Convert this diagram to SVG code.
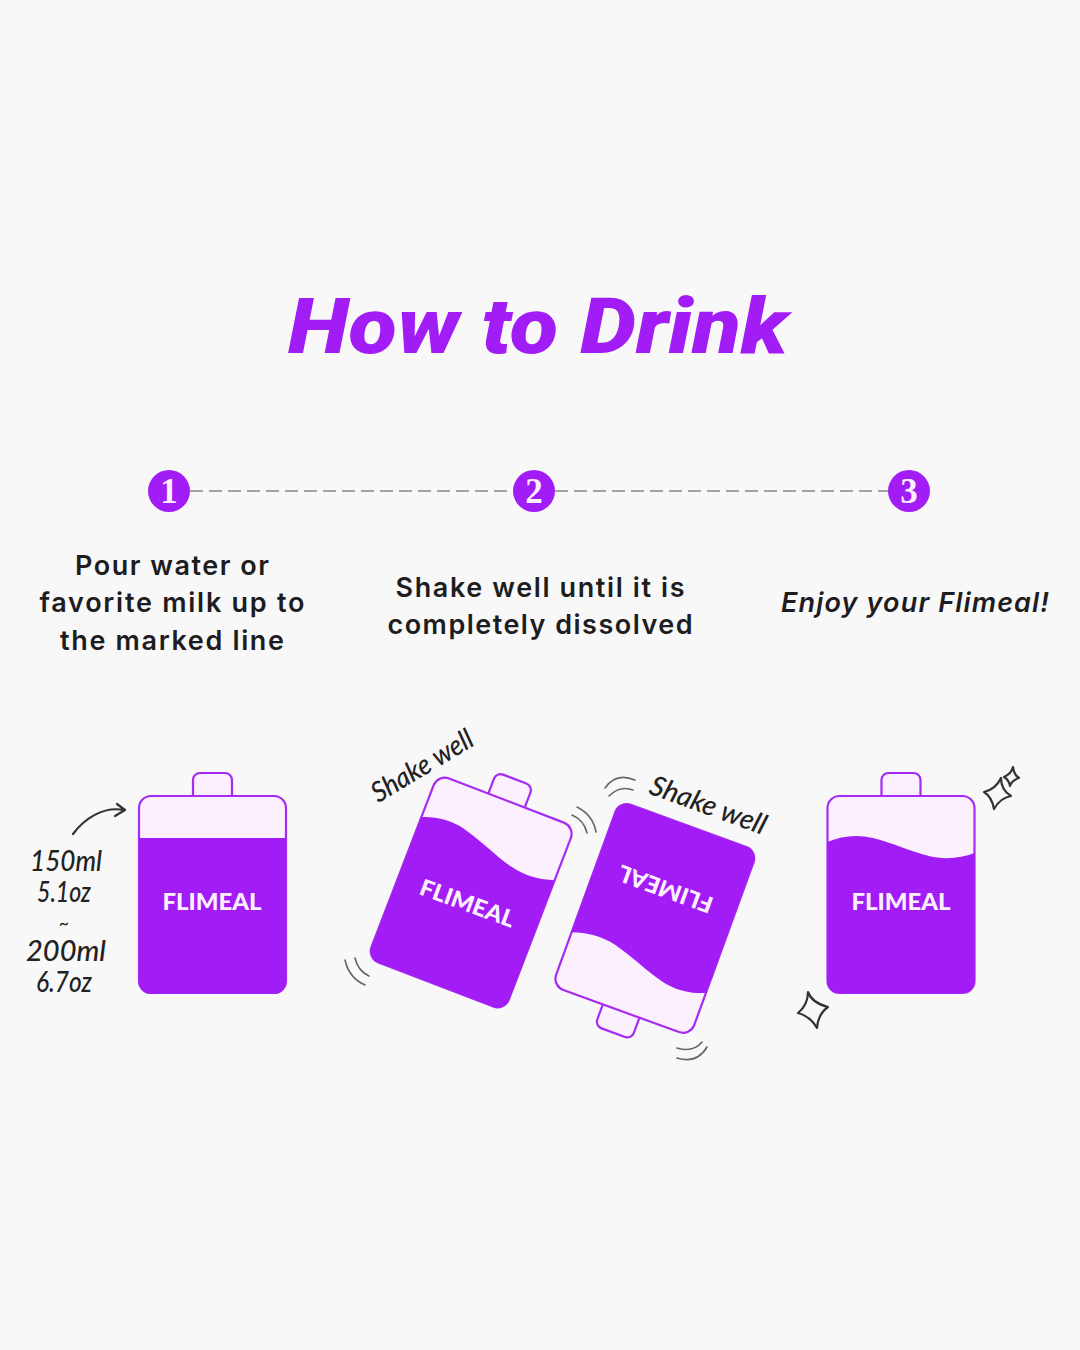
<svg xmlns="http://www.w3.org/2000/svg" xmlns:xlink="http://www.w3.org/1999/xlink" width="1080" height="1350" viewBox="0 0 1080 1350">
  <style>
    .title { font: italic 900 77px Roboto, "Liberation Sans", sans-serif; fill: #A21CF5; }
    .body { font: 600 27px Inter, "Liberation Sans", sans-serif; fill: #1d1d1f; text-anchor: middle; }
    .body-i { font: italic 600 27px Inter, "Liberation Sans", sans-serif; fill: #1d1d1f; text-anchor: middle; }
    .num { font: 700 35px "Liberation Serif", serif; fill: #FCF0FE; text-anchor: middle; }
    .hand { font: italic 500 28px Lato, "Liberation Sans", sans-serif; fill: #222; text-anchor: middle; }
    .tilde { font: italic 500 17px Lato, "Liberation Sans", sans-serif; fill: #222; text-anchor: middle; }
    .brand { font: 900 23px Lato, "Liberation Sans", sans-serif; fill: #FCF0FE; text-anchor: middle; }
    .badge { fill: #A21CF5; }
    .shell { fill: #FCF0FE; stroke: #A52BF0; stroke-width: 2.2; }
    .liquid { fill: #A21CF5; }
    .ink { fill: none; stroke: #333; stroke-width: 2.2; stroke-linecap: round; stroke-linejoin: round; }
    .wobble { fill: none; stroke: #666; stroke-width: 1.6; stroke-linecap: round; }
    .dash { fill: none; stroke: #a3a3a3; stroke-width: 1.8; stroke-dasharray: 13 6; }
  </style>
  <defs>
    <!-- Carton centred on the origin: cap and body outline -->
    <g id="carton-shell">
      <rect class="shell" x="-19.5" y="-122" width="39" height="34" rx="7"/>
      <rect class="shell" x="-73.5" y="-99" width="147" height="197" rx="12"/>
    </g>
    <g id="carton-wavy">
      <use xlink:href="#carton-shell" href="#carton-shell"/>
      <path class="liquid" d="M-73.5,-53 C-60,-59 -44,-61 -28,-57 C-8,-52 8,-44 28,-39 C44,-35 60,-37 73.5,-42 V86 A12,12 0 0 1 61.5,98 H-61.5 A12,12 0 0 1 -73.5,86 Z"/>
    </g>
  </defs>

  <rect width="1080" height="1350" fill="#F8F8F8"/>

  <text class="title" x="538" y="353" text-anchor="middle" textLength="500" lengthAdjust="spacingAndGlyphs">How to Drink</text>

  <g id="connectors">
    <path class="dash" d="M190,491 H513"/>
    <path class="dash" d="M555,491 H888"/>
  </g>

  <g id="step-1">
    <circle class="badge" cx="169" cy="491" r="21"/>
    <text class="num" x="169" y="503">1</text>
    <text class="body" x="172" y="575" textLength="194">Pour water or</text>
    <text class="body" x="172" y="612" textLength="265">favorite milk up to</text>
    <text class="body" x="172" y="650" textLength="224">the marked line</text>
  </g>
  <g id="step-2">
    <circle class="badge" cx="534" cy="491" r="21"/>
    <text class="num" x="534" y="503">2</text>
    <text class="body" x="540" y="597" textLength="289">Shake well until it is</text>
    <text class="body" x="540" y="634" textLength="305">completely dissolved</text>
  </g>
  <g id="step-3">
    <circle class="badge" cx="909" cy="491" r="21"/>
    <text class="num" x="909" y="503">3</text>
    <text class="body-i" x="915" y="612" textLength="268">Enjoy your Flimeal!</text>
  </g>

  <g id="carton-measure">
    <use xlink:href="#carton-shell" href="#carton-shell" transform="translate(212.5,895)"/>
    <path class="liquid" d="M139,838 H286 V982 A12,12 0 0 1 274,994 H151 A12,12 0 0 1 139,982 Z"/>
    <text class="brand" x="212" y="910" textLength="99" lengthAdjust="spacingAndGlyphs">FLIMEAL</text>
    <path class="ink" d="M73,834 C84,819 103,806 124,810 M117,804 L125,810 L115,816"/>
    <text class="hand" x="66" y="871" textLength="72" lengthAdjust="spacingAndGlyphs">150ml</text>
    <text class="hand" x="64" y="902" textLength="54" lengthAdjust="spacingAndGlyphs">5.1oz</text>
    <text class="tilde" x="64" y="929">~</text>
    <text class="hand" x="66" y="961" textLength="80" lengthAdjust="spacingAndGlyphs">200ml</text>
    <text class="hand" x="64" y="992" textLength="56" lengthAdjust="spacingAndGlyphs">6.7oz</text>
  </g>

  <g id="carton-shake-left">
    <use xlink:href="#carton-wavy" href="#carton-wavy" transform="translate(471,893) rotate(21)"/>
    <text class="brand" transform="translate(471,893) rotate(20)" y="19" textLength="99" lengthAdjust="spacingAndGlyphs">FLIMEAL</text>
    <text class="hand" transform="translate(427,774) rotate(-31)" textLength="114" lengthAdjust="spacingAndGlyphs">Shake well</text>
    <path class="wobble" d="M577,807 Q593,815 596,832 M572,815 Q584,820 587,833 M345,960 Q349,978 365,985 M355,958 Q358,971 369,976"/>
  </g>

  <g id="carton-shake-right">
    <use xlink:href="#carton-wavy" href="#carton-wavy" transform="translate(655,918) rotate(200)"/>
    <text class="brand" transform="translate(655,918) rotate(200)" y="39" textLength="99" lengthAdjust="spacingAndGlyphs">FLIMEAL</text>
    <text class="hand" transform="translate(705,814) rotate(20)" textLength="122" lengthAdjust="spacingAndGlyphs">Shake well</text>
    <path class="wobble" d="M605,788 Q616,772 635,780 M609,796 Q620,785 633,790 M677,1058 Q697,1064 707,1047 M677,1048 Q693,1053 702,1042"/>
  </g>

  <g id="carton-ready">
    <use xlink:href="#carton-wavy" href="#carton-wavy" transform="translate(901,895)"/>
    <text class="brand" x="901" y="910" textLength="99" lengthAdjust="spacingAndGlyphs">FLIMEAL</text>
    <path class="ink" d="M808,992 Q812,1003 828,1007 Q818,1014 817,1028 Q810,1016 798,1013 Q808,1005 808,992 Z"/>
    <path class="ink" d="M1001,778 Q1001,790 1011,796 Q1000,798 994,809 Q992,797 984,792 Q996,789 1001,778 Z"/>
    <path class="ink" d="M1013,767 Q1014,775 1019,778 Q1012,780 1010,786 Q1009,780 1004,777 Q1011,774 1013,767 Z"/>
  </g>
</svg>
